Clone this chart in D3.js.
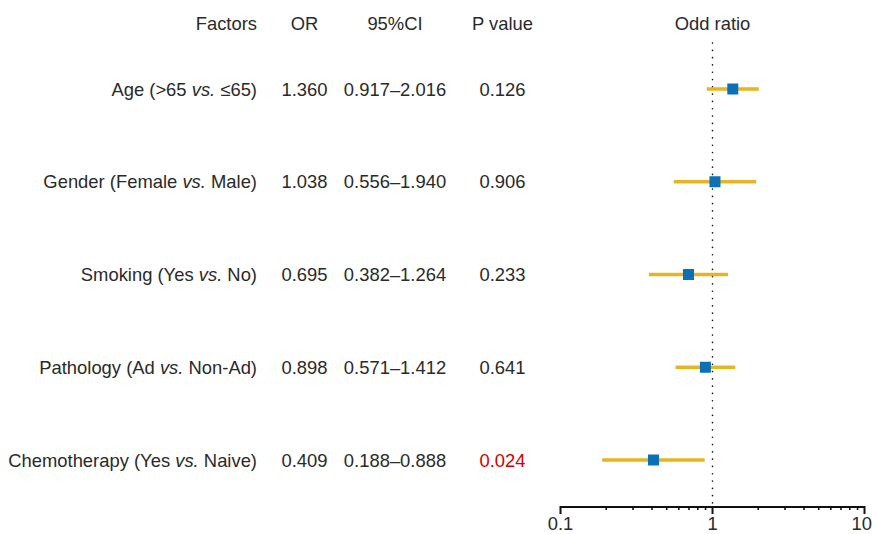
<!DOCTYPE html>
<html><head><meta charset="utf-8">
<script src="https://cdn.jsdelivr.net/npm/d3@7"></script>
<style>body{margin:0;background:#fff}svg{display:block}text{font-family:"Liberation Sans",Arial,Helvetica,sans-serif;font-size:18.4px;fill:#2a2a2a}</style>
</head><body><svg id="c" width="873" height="534"></svg>
<script>
const factorNames = ["Age", "Gender", "Smoking", "Pathology", "Chemotherapy"];
const factorA = ["(>65 ", "(Female ", "(Yes ", "(Ad ", "(Yes "];
const factorB = [" \u226465)", " Male)", " No)", " Non-Ad)", " Naive)"];
const orValues = [1.360, 1.038, 0.695, 0.898, 0.409];
const ciLow = [0.917, 0.556, 0.382, 0.571, 0.188];
const ciHigh = [2.016, 1.940, 1.264, 1.412, 0.888];
const pValues = ["0.126", "0.906", "0.233", "0.641", "0.024"];
const headers = ["Factors", "OR", "95%CI", "P value", "Odd ratio"];
const axisTicks = [0.1, 1, 10];

const svg = d3.select("#c");
const x = d3.scaleLog().domain([0.1, 10]).range([560.5, 864.5]);
const y = d3.scalePoint().domain(d3.range(factorNames.length)).range([89, 460]);
const axisY = 507;

// headers
const hx = [257, 304.5, 395, 502.5, x(1)];
const ha = ["end", "middle", "middle", "middle", "middle"];
headers.forEach((h, i) => svg.append("text").attr("x", hx[i]).attr("y", 30).attr("text-anchor", ha[i]).text(h));

// rows
factorNames.forEach((n, i) => {
  const t = svg.append("text").attr("x", 257).attr("y", y(i) + 6.5).attr("text-anchor", "end");
  t.append("tspan").text(n + " " + factorA[i]);
  t.append("tspan").attr("font-style", "italic").text("vs.");
  t.append("tspan").text(factorB[i]);
  svg.append("text").attr("x", 304.5).attr("y", y(i) + 6.5).attr("text-anchor", "middle").text(orValues[i].toFixed(3));
  svg.append("text").attr("x", 395).attr("y", y(i) + 6.5).attr("text-anchor", "middle").text(ciLow[i].toFixed(3) + "\u2013" + ciHigh[i].toFixed(3));
  svg.append("text").attr("x", 502.5).attr("y", y(i) + 6.5).attr("text-anchor", "middle")
    .style("fill", +pValues[i] < 0.05 ? "#d40000" : "#2a2a2a").text(pValues[i]);
});

// reference line
svg.append("line").attr("x1", x(1)).attr("x2", x(1)).attr("y1", 43).attr("y2", axisY)
  .attr("stroke", "#111").attr("stroke-width", 1.6).attr("stroke-dasharray", "0.1,7.2").attr("stroke-linecap", "round");

// CI bars
svg.selectAll(".ci").data(factorNames).enter().append("line")
  .attr("x1", (d, i) => x(ciLow[i])).attr("x2", (d, i) => x(ciHigh[i]))
  .attr("y1", (d, i) => y(i)).attr("y2", (d, i) => y(i))
  .attr("stroke", "#e6b521").attr("stroke-width", 3.5);

// squares
const s = 11;
svg.selectAll(".sq").data(factorNames).enter().append("rect")
  .attr("x", (d, i) => x(orValues[i]) - s / 2).attr("y", (d, i) => y(i) - s / 2)
  .attr("width", s).attr("height", s).attr("fill", "#0a70b8");

// axis
const minor = [];
for (let d = 0.1; d < 10; d *= 10) for (let k = 2; k <= 9; k++) minor.push(+(d * k).toFixed(2));
const ax = svg.append("g").attr("transform", `translate(0,${axisY})`);
ax.append("line").attr("x1", x(0.1)).attr("x2", x(10)).attr("stroke", "#111").attr("stroke-width", 2);
ax.selectAll(".mn").data(minor).enter().append("line")
  .attr("x1", d => x(d)).attr("x2", d => x(d)).attr("y1", 0).attr("y2", 3)
  .attr("stroke", "#111").attr("stroke-width", 1.6);
ax.selectAll(".mj").data(axisTicks).enter().append("line")
  .attr("x1", d => x(d)).attr("x2", d => x(d)).attr("y1", -1).attr("y2", 7)
  .attr("stroke", "#111").attr("stroke-width", 2);
ax.selectAll(".tl").data(axisTicks).enter().append("text")
  .attr("x", (d, i) => i === axisTicks.length - 1 ? 872 : x(d)).attr("y", 23)
  .attr("text-anchor", (d, i) => i === axisTicks.length - 1 ? "end" : "middle").text(d => d);
</script></body></html>
